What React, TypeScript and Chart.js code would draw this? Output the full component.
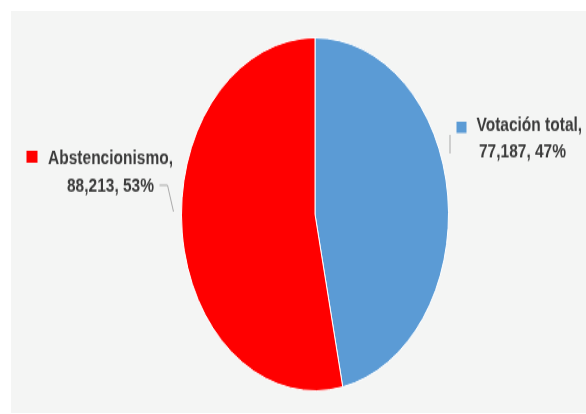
import { useEffect, useRef } from "react";
import { Chart, registerables } from "chart.js";

Chart.register(...registerables);

const categories = ["Votación total", "Abstencionismo"];
const values = [77187, 88213];
const colors = ["#5B9BD5", "#FF0000"];

const W = 586;
const H = 414;
const SY = 1.3227; // vertical stretch of the original picture
const CH = Math.round(H / SY);

const FONT = "bold 15.5px 'Liberation Sans', Arial, sans-serif";
const TEXT = "#3b3b3b";
const LEADER = "#a9a9a9";

const labelPlugin = {
  id: "pieLabels",
  afterDraw(chart: any) {
    const ctx = chart.ctx as CanvasRenderingContext2D;
    const meta = chart.getDatasetMeta(0);
    const arc = meta.data[0] as any;
    const cx = arc.x;
    const cy = arc.y;
    const r = arc.outerRadius;
    const total = values.reduce((a, b) => a + b, 0);
    const fmt = (i: number) =>
      `${values[i].toLocaleString("en-US")}, ${Math.round((values[i] / total) * 100)}%`;

    ctx.save();
    ctx.font = FONT;
    ctx.fillStyle = TEXT;
    ctx.textBaseline = "alphabetic";

    // left label (Abstencionismo)
    const lx = cx - r - 71;
    ctx.textAlign = "center";
    ctx.fillText(categories[1] + ",", lx, cy - 38.5);
    ctx.fillText(fmt(1), lx, cy - 17.5);
    ctx.fillStyle = colors[1];
    ctx.fillRect(cx - r - 155, cy - 48, 11, 9);

    // right label (Votación total)
    ctx.fillStyle = TEXT;
    ctx.textAlign = "left";
    ctx.fillText(categories[0] + ",", cx + r + 28, cy - 63.5);
    ctx.textAlign = "center";
    ctx.fillText(fmt(0), cx + r + 74, cy - 43);
    ctx.fillStyle = colors[0];
    ctx.fillRect(cx + r + 8, cy - 70, 10, 8.5);

    // leader lines
    ctx.strokeStyle = LEADER;
    ctx.lineWidth = 1;
    ctx.beginPath();
    ctx.moveTo(cx - r - 22, cy - 22);
    ctx.lineTo(cx - r - 14, cy - 22);
    ctx.lineTo(cx - r - 8, cy - 2);
    ctx.stroke();
    ctx.beginPath();
    ctx.moveTo(cx + r + 1.5, cy - 60);
    ctx.lineTo(cx + r + 1.5, cy - 46);
    ctx.stroke();
    ctx.restore();
  },
};

export default function App() {
  const ref = useRef<HTMLCanvasElement>(null);

  useEffect(() => {
    if (!ref.current) return;
    const chart = new Chart(ref.current, {
      type: "pie",
      data: {
        labels: categories,
        datasets: [
          {
            data: values,
            backgroundColor: colors,
            borderColor: "#ffffff",
            borderWidth: 1,
          },
        ],
      },
      options: {
        responsive: false,
        maintainAspectRatio: false,
        animation: false,
        devicePixelRatio: 1,
        layout: { padding: { left: 181, right: 137, top: 28, bottom: CH - 296 } },
        plugins: {
          legend: { display: false },
          tooltip: { enabled: false },
        },
      },
      plugins: [labelPlugin],
    });
    return () => chart.destroy();
  }, []);

  return (
    <div
      style={{
        position: "fixed",
        left: 0,
        top: 0,
        width: W,
        height: H,
        overflow: "hidden",
        background: "#ffffff",
      }}
    >
      <div
        style={{
          position: "absolute",
          left: 11,
          top: 11,
          width: W - 11,
          height: H - 12,
          background: "#f4f5f4",
        }}
      />
      <div
        style={{
          position: "absolute",
          left: 0,
          top: 0,
          width: W,
          height: CH,
          transform: `scaleY(${SY})`,
          transformOrigin: "0 0",
        }}
      >
        <canvas ref={ref} width={W} height={CH} style={{ display: "block" }} />
      </div>
    </div>
  );
}
